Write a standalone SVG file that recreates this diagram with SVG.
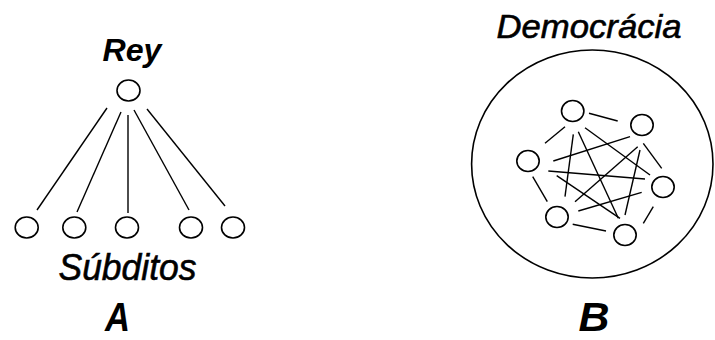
<svg xmlns="http://www.w3.org/2000/svg" width="715" height="340" viewBox="0 0 715 340">
<style>
.n{fill:none;stroke:#000;stroke-width:1.6}
.c line{stroke:#000;stroke-width:1.4}
.t{font-family:"Liberation Sans",Arial,sans-serif;font-style:italic;fill:#000;text-anchor:middle}
.b{font-weight:bold}
.m{stroke:#000;stroke-width:0.6}
</style>
<rect width="715" height="340" fill="#fff"/>
<g id="diagramA">
<g id="rey"><ellipse class="n" cx="128.5" cy="90.5" rx="11.5" ry="10.5"/><text class="t b" x="132" y="61" font-size="32" textLength="59" lengthAdjust="spacingAndGlyphs">Rey</text></g>
<g id="s1"><ellipse class="n" cx="26.7" cy="227.5" rx="11.5" ry="10.5"/></g>
<g id="s2"><ellipse class="n" cx="74.3" cy="227.5" rx="11.5" ry="10.5"/></g>
<g id="s3"><ellipse class="n" cx="127" cy="227.5" rx="11.5" ry="10.5"/></g>
<g id="s4"><ellipse class="n" cx="191" cy="227.5" rx="11.5" ry="10.5"/></g>
<g id="s5"><ellipse class="n" cx="233" cy="227.5" rx="11.5" ry="10.5"/></g>
<g id="subditos"><text class="t m" x="127.5" y="280" font-size="37" textLength="138" lengthAdjust="spacingAndGlyphs">Súbditos</text></g>
<g id="labelA"><text class="t b" x="117.5" y="330.5" font-size="41" textLength="25" lengthAdjust="spacingAndGlyphs">A</text></g>
<g class="c" id="connectorsA">
<line x1="107" y1="108" x2="37" y2="210"/>
<line x1="121" y1="112" x2="77" y2="212"/>
<line x1="128" y1="115" x2="128" y2="213"/>
<line x1="134" y1="110" x2="189" y2="210"/>
<line x1="147" y1="109" x2="225" y2="206"/>
</g>
</g>
<g id="diagramB">
<g id="democracia"><ellipse class="n" cx="592.3" cy="164" rx="120.7" ry="114"/><text class="t m" x="589" y="38" font-size="34" textLength="185" lengthAdjust="spacingAndGlyphs">Democrácia</text></g>
<g id="d1"><ellipse class="n" cx="572.7" cy="111" rx="11.2" ry="10.5"/></g>
<g id="d2"><ellipse class="n" cx="642" cy="125" rx="11.2" ry="10.5"/></g>
<g id="d3"><ellipse class="n" cx="528" cy="161" rx="11.2" ry="10.5"/></g>
<g id="d4"><ellipse class="n" cx="663" cy="187" rx="11.2" ry="10.5"/></g>
<g id="d5"><ellipse class="n" cx="557" cy="217" rx="11.2" ry="10.5"/></g>
<g id="d6"><ellipse class="n" cx="625" cy="235" rx="11.2" ry="10.5"/></g>
<g id="labelB"><text class="t b" x="594" y="330.5" font-size="41" textLength="31" lengthAdjust="spacingAndGlyphs">B</text></g>
<g class="c" id="connectorsB">
<line x1="589" y1="113.3" x2="617.7" y2="121"/>
<line x1="565" y1="126.7" x2="545" y2="143.3"/>
<line x1="643.3" y1="143.3" x2="661.7" y2="168.3"/>
<line x1="532.7" y1="176.7" x2="547.3" y2="201.7"/>
<line x1="653.3" y1="206.7" x2="643.3" y2="223.3"/>
<line x1="572.7" y1="224.3" x2="606" y2="231"/>
<line x1="573.3" y1="134.3" x2="565" y2="196.7"/>
<line x1="578.3" y1="131.7" x2="618.3" y2="218.3"/>
<line x1="585" y1="127.7" x2="650" y2="175"/>
<line x1="630" y1="136.7" x2="553.3" y2="161"/>
<line x1="637.7" y1="146.7" x2="575" y2="201.7"/>
<line x1="640" y1="150" x2="625" y2="215"/>
<line x1="548.3" y1="171" x2="645" y2="179"/>
<line x1="556.7" y1="175.7" x2="620" y2="218.3"/>
<line x1="578.3" y1="211" x2="641.7" y2="192.3"/>
</g>
</g>
</svg>
